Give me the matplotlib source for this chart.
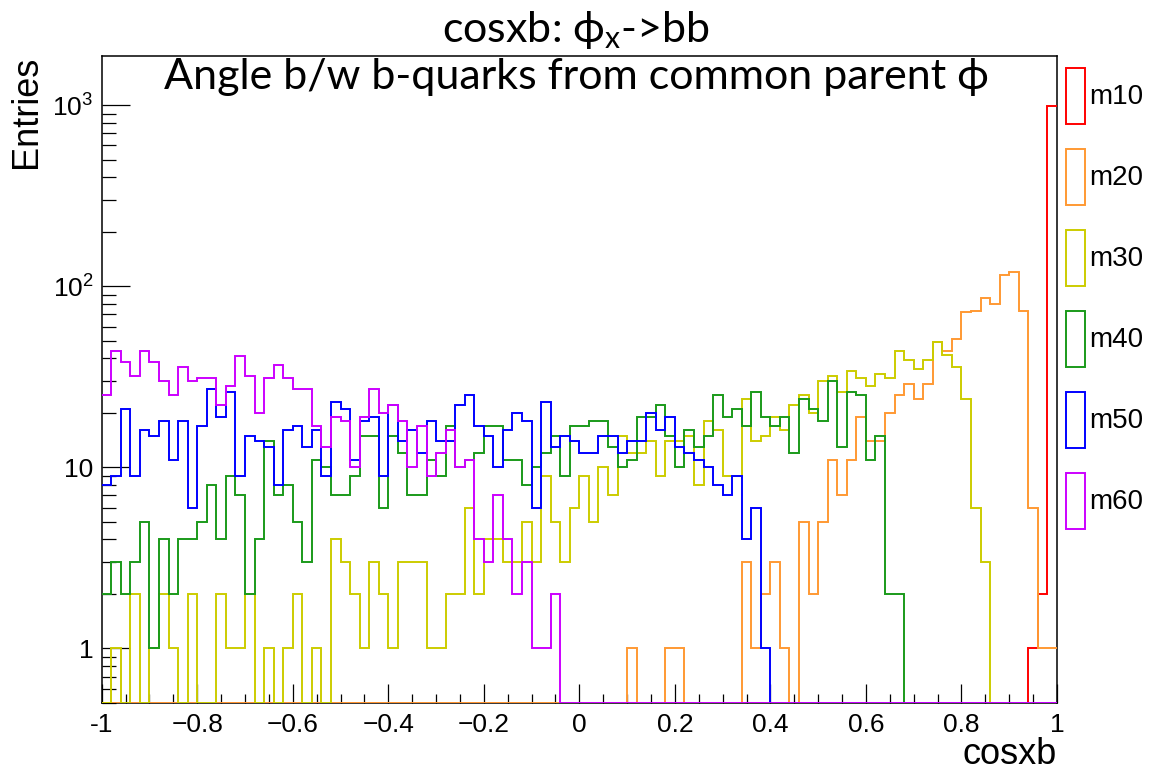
import matplotlib
matplotlib.use("Agg")
import matplotlib.pyplot as plt
from matplotlib.patches import Rectangle
from matplotlib.ticker import MultipleLocator, LogLocator, NullFormatter
import numpy as np

# 100 bins of cosxb between -1 and 1
bin_edges = np.linspace(-1, 1, 101)

m10 = [0, 0, 0, 0, 0, 0, 0, 0, 0, 0, 0, 0, 0, 0, 0, 0, 0, 0, 0, 0,
       0, 0, 0, 0, 0, 0, 0, 0, 0, 0, 0, 0, 0, 0, 0, 0, 0, 0, 0, 0,
       0, 0, 0, 0, 0, 0, 0, 0, 0, 0, 0, 0, 0, 0, 0, 0, 0, 0, 0, 0,
       0, 0, 0, 0, 0, 0, 0, 0, 0, 0, 0, 0, 0, 0, 0, 0, 0, 0, 0, 0,
       0, 0, 0, 0, 0, 0, 0, 0, 0, 0, 0, 0, 0, 0, 0, 0, 0, 1, 2, 997]

m20 = [0, 0, 0, 0, 0, 0, 0, 0, 0, 0, 0, 0, 0, 0, 0, 0, 0, 0, 0, 0,
       0, 0, 0, 0, 0, 0, 0, 0, 0, 0, 0, 0, 0, 0, 0, 0, 0, 0, 0, 0,
       0, 0, 0, 0, 0, 0, 0, 0, 0, 0, 0, 0, 0, 0, 0, 1, 0, 0, 0, 1,
       1, 0, 0, 0, 0, 0, 0, 3, 1, 2, 3, 1, 0, 5, 2, 5, 11, 7, 11, 19,
       14, 14, 20, 25, 29, 24, 29, 49, 44, 51, 72, 73, 86, 80, 116, 120, 73, 6, 1, 1]

m30 = [0, 1, 0, 2, 0, 1, 2, 1, 0, 2, 0, 0, 2, 1, 1, 2, 0, 1, 0, 1,
       2, 0, 1, 0, 4, 3, 2, 1, 3, 2, 1, 3, 3, 3, 1, 1, 2, 2, 6, 2,
       4, 4, 3, 3, 5, 3, 9, 5, 3, 6, 9, 5, 10, 7, 15, 12, 12, 14, 9, 14,
       14, 15, 8, 18, 16, 9, 9, 24, 14, 15, 19, 16, 22, 25, 20, 30, 32, 26, 34, 31,
       28, 33, 31, 44, 39, 35, 39, 49, 42, 36, 24, 6, 3, 0, 0, 0, 0, 0, 0, 0]

m40 = [2, 3, 2, 3, 5, 1, 4, 2, 4, 4, 5, 8, 4, 9, 7, 2, 4, 14, 7, 8,
       5, 3, 11, 10, 7, 7, 9, 15, 15, 6, 15, 12, 7, 7, 11, 9, 17, 10, 11, 12,
       17, 17, 11, 11, 8, 10, 12, 15, 9, 17, 17, 18, 18, 13, 10, 11, 19, 19, 22, 15,
       10, 16, 13, 15, 25, 19, 21, 17, 26, 19, 17, 19, 12, 24, 21, 18, 30, 13, 26, 25,
       11, 15, 2, 2, 0, 0, 0, 0, 0, 0, 0, 0, 0, 0, 0, 0, 0, 0, 0, 0]

m50 = [8, 9, 21, 9, 16, 15, 18, 11, 18, 6, 17, 27, 19, 26, 9, 15, 14, 13, 8, 16,
       17, 13, 16, 9, 23, 21, 11, 18, 19, 9, 22, 14, 16, 12, 18, 14, 14, 22, 25, 17,
       15, 10, 16, 20, 18, 6, 23, 13, 15, 14, 12, 12, 15, 15, 12, 14, 14, 20, 16, 19,
       13, 12, 11, 10, 8, 7, 9, 4, 6, 1, 0, 0, 0, 0, 0, 0, 0, 0, 0, 0,
       0, 0, 0, 0, 0, 0, 0, 0, 0, 0, 0, 0, 0, 0, 0, 0, 0, 0, 0, 0]

m60 = [25, 44, 38, 32, 44, 38, 30, 25, 36, 30, 31, 31, 22, 28, 41, 32, 20, 31, 37, 31,
       27, 27, 17, 13, 19, 18, 10, 19, 27, 20, 22, 18, 10, 17, 9, 12, 16, 10, 11, 4,
       3, 7, 4, 2, 3, 1, 1, 2, 0, 0, 0, 0, 0, 0, 0, 0, 0, 0, 0, 0,
       0, 0, 0, 0, 0, 0, 0, 0, 0, 0, 0, 0, 0, 0, 0, 0, 0, 0, 0, 0,
       0, 0, 0, 0, 0, 0, 0, 0, 0, 0, 0, 0, 0, 0, 0, 0, 0, 0, 0, 0]

labels = ["m10", "m20", "m30", "m40", "m50", "m60"]
colors = ["#ff0000", "#ff9933", "#cccc00", "#1a9a1a", "#0000ff", "#cc00ff"]
hists = [m10, m20, m30, m40, m50, m60]

ymin, ymax = 0.5, 1870

plt.rcParams["font.family"] = ["Liberation Sans", "DejaVu Sans"]
plt.rcParams["mathtext.default"] = "regular"

fig = plt.figure(figsize=(11.52, 7.72), dpi=100)
ax = fig.add_axes([0.0883, 0.0894, 0.8292, 0.838])

for h, c in zip(hists, colors):
    # empty bins sit on the bottom of the frame, as in ROOT
    vals = np.where(np.array(h) > 0, h, ymin)
    ax.stairs(vals, bin_edges, baseline=None, color=c, lw=1.4, zorder=3)

ax.set_yscale("log")
ax.set_xlim(-1, 1)
ax.set_ylim(ymin, ymax)

ax.set_xticks(np.arange(-1, 1.01, 0.2))
ax.set_xticklabels(["-1", "\u22120.8", "\u22120.6", "\u22120.4", "\u22120.2",
                    "0", "0.2", "0.4", "0.6", "0.8", "1"], fontsize=19)
ax.xaxis.set_minor_locator(MultipleLocator(0.05))

ax.set_yticks([1, 10, 100, 1000])
ax.set_yticklabels(["1", "10", "$10^{2}$", "$10^{3}$"], fontsize=19)
ax.yaxis.set_minor_locator(LogLocator(base=10, subs=np.arange(2, 10)))
ax.yaxis.set_minor_formatter(NullFormatter())

ax.tick_params(which="both", direction="in", top=False, right=False, width=0.9)
ax.tick_params(axis="x", which="major", length=13.5, pad=7)
ax.tick_params(axis="x", which="minor", length=6.7)
ax.tick_params(axis="y", which="major", length=20, pad=6)
ax.tick_params(axis="y", which="minor", length=10)
for s in ax.spines.values():
    s.set_linewidth(1.1)

ax.set_xlabel("cosxb", fontsize=26, loc="right", va="baseline")
ax.xaxis.set_label_coords(1.0, -0.094)
ax.set_ylabel("Entries", fontsize=26, loc="top")
ax.yaxis.set_label_coords(-0.06, 1.0)

title_font = ["Lato", "DejaVu Sans"]
fig.text(0.5, 1 - 30 / 772, "cosxb: \u03d5$_{x}$->bb", ha="center", va="center",
         fontsize=31, family=title_font)
fig.text(0.5, 1 - 77 / 772, "Angle b/w b-quarks from common parent \u03d5",
         ha="center", va="center", fontsize=31, family=title_font)

handles = [Rectangle((0, 0), 1, 1, fill=False, edgecolor=c, lw=1.4) for c in colors]
fig.legend(handles, labels, loc="upper left", bbox_to_anchor=(1066 / 1152, 1 - 68 / 772),
           frameon=False, fontsize=20, handlelength=0.68, handleheight=2.72,
           labelspacing=0.9, handletextpad=0.15, borderpad=0, borderaxespad=0)

fig.savefig("out.png", dpi=100)
